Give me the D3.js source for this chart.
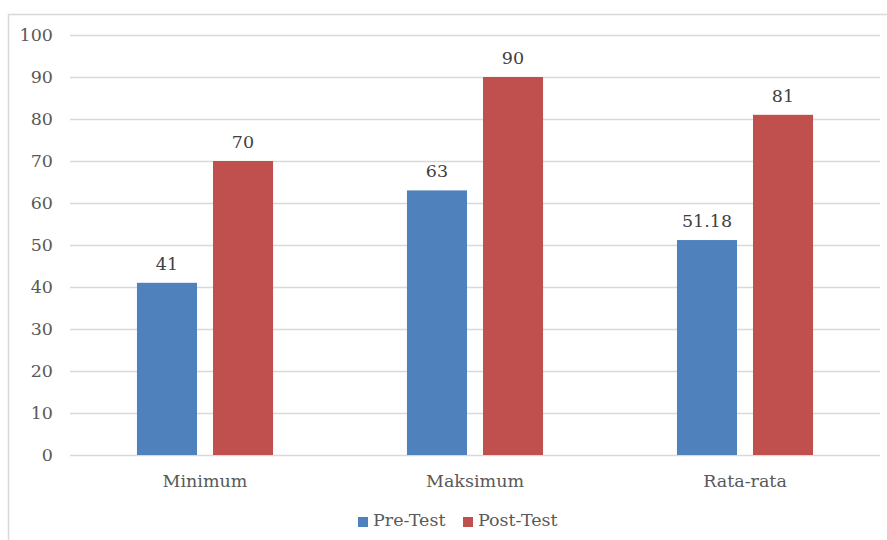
<!DOCTYPE html>
<html>
<head>
<meta charset="utf-8">
<script src="https://cdn.jsdelivr.net/npm/d3@7"></script>
<style>
  html, body { margin: 0; padding: 0; background: #fff; }
  svg { display: block; }
</style>
</head>
<body>
<script>
// Chart data
const categories = ["Minimum", "Maksimum", "Rata-rata"];
const seriesNames = ["Pre-Test", "Post-Test"];
const preTest = [41, 63, 51.18];
const postTest = [70, 90, 81];
const yTicks = [0, 10, 20, 30, 40, 50, 60, 70, 80, 90, 100];
const colors = ["#4F81BD", "#C0504D"];

const W = 887, H = 540;
const FONT = "'DejaVu Serif', serif";
const FS = 17.5;

const svg = d3.select("body").append("svg")
  .attr("width", W).attr("height", H)
  .style("font-family", FONT);

// Outer chart frame
svg.append("rect")
  .attr("x", 8.5).attr("y", 14.5)
  .attr("width", W + 20).attr("height", H + 20)
  .attr("fill", "none").attr("stroke", "#d9d9d9").attr("stroke-width", 1.5);

const y = d3.scaleLinear().domain([0, 100]).range([455, 35]);
const x0 = d3.scaleBand().domain(categories).range([70, 880])
  .paddingInner(0.496).paddingOuter(0.248);
const x1 = d3.scaleBand().domain(seriesNames).range([0, x0.bandwidth()])
  .paddingInner(0.2105).paddingOuter(0);

// Gridlines
svg.append("g").selectAll("line").data(yTicks).join("line")
  .attr("x1", 70).attr("x2", 880)
  .attr("y1", d => Math.round(y(d)) + 0.5).attr("y2", d => Math.round(y(d)) + 0.5)
  .attr("stroke", "#d9d9d9").attr("stroke-width", 1.3);

// Y axis labels
svg.append("g").selectAll("text").data(yTicks).join("text")
  .attr("x", 53).attr("y", d => y(d)).attr("dy", "0.35em")
  .attr("text-anchor", "end").attr("font-size", FS).attr("fill", "#595959")
  .text(d => d);

// Bars
const rows = categories.map((c, i) => ({ cat: c, values: [preTest[i], postTest[i]] }));
const groups = svg.append("g").selectAll("g").data(rows).join("g")
  .attr("transform", d => `translate(${x0(d.cat)},0)`);

groups.selectAll("rect").data(d => d.values.map((v, j) => ({ s: seriesNames[j], v, j })))
  .join("rect")
  .attr("x", d => x1(d.s)).attr("width", x1.bandwidth())
  .attr("y", d => y(d.v)).attr("height", d => y(0) - y(d.v))
  .attr("fill", d => colors[d.j]);

// Value labels
groups.selectAll("text").data(d => d.values.map((v, j) => ({ s: seriesNames[j], v, j })))
  .join("text")
  .attr("x", d => x1(d.s) + x1.bandwidth() / 2)
  .attr("y", d => y(d.v) - 13)
  .attr("text-anchor", "middle").attr("font-size", FS).attr("fill", "#404040")
  .text(d => d.v);

// Category labels
svg.append("g").selectAll("text").data(categories).join("text")
  .attr("x", d => x0(d) + x0.bandwidth() / 2).attr("y", 487)
  .attr("text-anchor", "middle").attr("font-size", FS).attr("fill", "#595959")
  .text(d => d);

// Legend
const legend = svg.append("g");
const legendX = [358, 463];
seriesNames.forEach((s, i) => {
  legend.append("rect").attr("x", legendX[i]).attr("y", 517)
    .attr("width", 10).attr("height", 10).attr("fill", colors[i]);
  legend.append("text").attr("x", legendX[i] + 15).attr("y", 526)
    .attr("font-size", FS).attr("fill", "#595959").text(s);
});
</script>
</body>
</html>
